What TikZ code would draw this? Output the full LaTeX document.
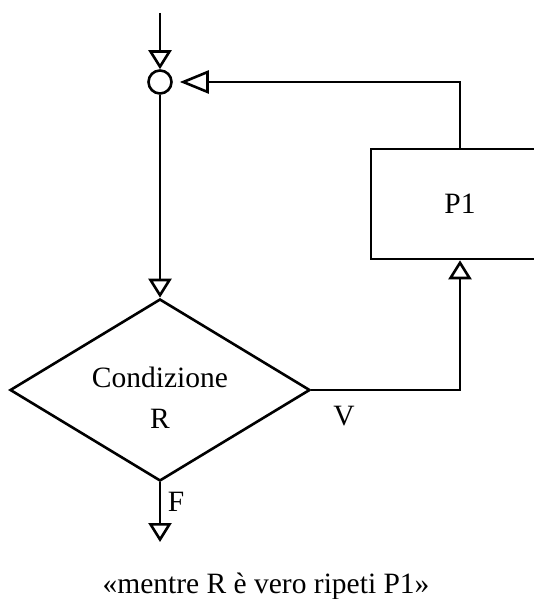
\documentclass[tikz,border=0pt]{standalone}
\usepackage{fontspec}
\setmainfont{Liberation Serif}
\usetikzlibrary{shapes.geometric,arrows.meta}
\begin{document}
\begin{tikzpicture}[x=1pt,y=-1pt,line width=2.6pt,
  every node/.style={font=\fontsize{29.5}{41}\selectfont},
  smalltip/.style={-{Triangle[open,length=19pt,width=23pt]}},
  bigtip/.style={-{Triangle[open,length=29pt,width=23pt]}},
  boxnode/.style={draw,inner sep=0pt},
]
\useasboundingbox (0,0) rectangle (534,599);
\clip (0,0) rectangle (534,599);

\coordinate (start) at (160,13);
\node[circle,boxnode,minimum size=23pt] (junc) at (160,82) {};
\node[diamond,boxnode,aspect=1.65,minimum width=300pt,minimum height=182pt] (cond) at (160,390) {};
\node[align=center,inner sep=0pt] (condtxt) at (160,398) {Condizione\\R};
\node[boxnode,minimum width=178pt,minimum height=110pt] (p1) at (460,204) {P1};
\coordinate (fend) at (160,542);

\draw[smalltip] (start) -- (junc.north);
\draw[smalltip] (junc.south) -- (cond.north);
\draw[bigtip,shorten >=7pt] (p1.north) |- (junc.east);
\draw[smalltip] (cond.east) -| (p1.south);
\draw[smalltip] (cond.south) -- (fend);

\node (flab) at (176,502) {F};
\node (vlab) at (344,416) {V};
\node[anchor=base] (cap) at (266,593) {«mentre R è vero ripeti P1»};
\end{tikzpicture}
\end{document}
